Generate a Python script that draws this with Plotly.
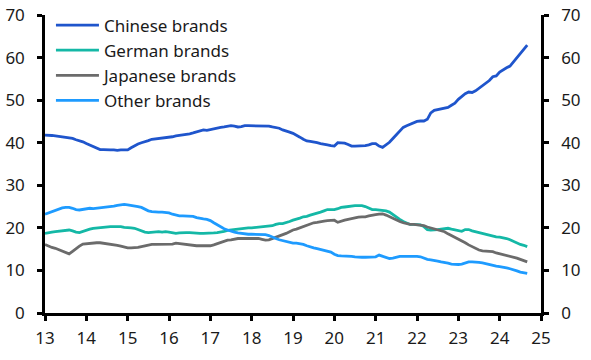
import plotly.graph_objects as go

start_year = 13
chinese = [
    41.8, 41.8, 41.7, 41.6, 41.5, 41.4, 41.3, 41.2, 41.0, 40.7, 40.5, 40.2,
    39.8, 39.4, 39.0, 38.6, 38.4, 38.4, 38.3, 38.3, 38.3, 38.2, 38.3, 38.3,
    38.3, 38.8, 39.3, 39.7, 40.0, 40.2, 40.5, 40.8, 40.9, 41.0, 41.1, 41.2,
    41.2, 41.4, 41.6, 41.7, 41.8, 42.0, 42.1, 42.3, 42.5, 42.7, 43.0, 42.9,
    43.1, 43.3, 43.5, 43.6, 43.7, 43.8, 44.0, 43.9, 43.7, 43.8, 44.0, 44.0,
    44.0, 44.0, 44.0, 44.0, 44.0, 43.9, 43.7, 43.5, 43.4, 43.0, 42.8, 42.5,
    42.2, 41.8, 41.3, 40.8, 40.4, 40.3, 40.2, 40.0, 39.8, 39.7, 39.5, 39.3,
    39.2, 40.0, 40.0, 39.9, 39.6, 39.2, 39.2, 39.2, 39.2, 39.3, 39.5, 39.8,
    39.8, 39.2, 38.9, 39.5, 40.1, 41.0, 41.8, 42.7, 43.6, 44.0, 44.3, 44.6,
    45.0, 45.1, 45.1, 45.5, 47.0, 47.6, 47.8, 47.9, 48.1, 48.3, 48.8, 49.3,
    50.2, 50.9, 51.5, 51.9, 51.8, 52.2, 52.8, 53.5, 54.0, 54.6, 55.5, 55.7,
    56.6, 57.2, 57.6, 58.0, 59.0, 59.9, 61.0, 62.0, 62.9,
]
german = [
    18.7, 18.9, 19.0, 19.1, 19.2, 19.3, 19.4, 19.5, 19.3, 19.0, 18.9, 19.2,
    19.5, 19.7, 19.9, 20.0, 20.1, 20.2, 20.2, 20.3, 20.3, 20.3, 20.3, 20.1,
    20.1, 20.0, 19.9, 19.6, 19.3, 19.0, 18.9, 19.0, 19.0, 19.1, 19.0, 19.1,
    19.0, 18.8, 18.7, 18.8, 18.9, 18.9, 18.9, 18.8, 18.8, 18.7, 18.7, 18.7,
    18.7, 18.8, 18.9, 19.0, 19.2, 19.4, 19.5, 19.6, 19.8, 19.9, 20.0, 20.0,
    20.0, 20.1, 20.2, 20.3, 20.3, 20.4, 20.5, 20.8, 21.0, 21.0, 21.2, 21.5,
    21.8, 22.0, 22.3, 22.6, 22.7, 23.0, 23.2, 23.4, 23.7, 24.0, 24.3, 24.3,
    24.3, 24.5, 24.8, 24.9, 25.0, 25.2, 25.2, 25.2, 25.2, 25.0, 24.6, 24.3,
    24.3, 24.2, 24.2, 24.0, 23.7, 23.2, 22.7, 22.0, 21.5, 21.1, 20.8, 20.8,
    20.7, 20.7, 20.3, 19.6, 19.5, 19.5, 19.6, 19.7, 19.8, 19.9, 19.7, 19.5,
    19.3, 19.2, 19.6, 19.6, 19.3, 19.1, 18.9, 18.7, 18.4, 18.2, 18.1, 17.9,
    17.8, 17.7, 17.5, 17.2, 16.8, 16.4, 16.1, 15.9, 15.6,
]
japanese = [
    16.1, 15.7, 15.4, 15.2, 14.9, 14.6, 14.3, 13.9, 14.5, 15.2, 15.7, 16.2,
    16.3, 16.4, 16.5, 16.5, 16.5, 16.4, 16.3, 16.2, 16.1, 15.9, 15.7, 15.5,
    15.3, 15.3, 15.3, 15.4, 15.6, 15.8, 16.0, 16.1, 16.1, 16.1, 16.1, 16.1,
    16.1, 16.2, 16.4, 16.3, 16.2, 16.0, 15.9, 15.8, 15.8, 15.8, 15.8, 15.9,
    15.8, 16.0, 16.3, 16.6, 16.9, 17.1, 17.2, 17.4, 17.5, 17.5, 17.5, 17.5,
    17.5, 17.5, 17.5, 17.3, 17.1, 17.2, 17.5, 17.7, 18.0, 18.3, 18.7, 19.1,
    19.5, 19.7, 20.0, 20.3, 20.6, 20.9, 21.2, 21.3, 21.5, 21.6, 21.7, 21.8,
    21.8, 21.3, 21.6, 21.8, 22.0, 22.2, 22.3, 22.5, 22.6, 22.6, 22.8, 23.0,
    23.1, 23.2, 23.3, 23.0, 22.6, 22.2, 21.9, 21.5, 21.2, 21.0, 20.8, 20.8,
    20.7, 20.7, 20.5, 20.2, 20.0, 19.8, 19.6, 19.4, 19.1, 18.6, 18.2, 17.7,
    17.3, 16.9, 16.5, 16.0, 15.6, 15.2, 14.8, 14.6, 14.5, 14.4, 14.4, 14.1,
    13.9, 13.8, 13.5, 13.3, 13.1, 12.9, 12.6, 12.3, 12.0,
]
other = [
    23.2, 23.5, 23.8, 24.1, 24.4, 24.7, 24.8, 24.8, 24.6, 24.3, 24.2, 24.3,
    24.5, 24.6, 24.5, 24.6, 24.7, 24.8, 24.8, 25.0, 25.1, 25.3, 25.4, 25.5,
    25.4, 25.3, 25.2, 25.0, 24.8, 24.4, 24.0, 23.8, 23.7, 23.7, 23.7, 23.6,
    23.5, 23.2, 23.0, 22.8, 22.8, 22.8, 22.8, 22.7, 22.4, 22.2, 22.1, 22.0,
    21.7, 21.2, 20.7, 20.2, 19.8, 19.5, 19.2, 19.0, 18.8, 18.7, 18.5, 18.5,
    18.5, 18.5, 18.4, 18.5, 18.4, 18.2, 17.8, 17.5, 17.2, 17.0, 16.8, 16.6,
    16.4, 16.4, 16.3, 16.1, 15.8, 15.5, 15.3, 15.1, 14.9, 14.7, 14.6, 14.3,
    13.8, 13.5, 13.4, 13.4, 13.3, 13.3, 13.2, 13.1, 13.1, 13.1, 13.1, 13.1,
    13.2, 13.6, 13.3, 13.0, 12.8, 12.9, 13.1, 13.3, 13.3, 13.3, 13.3, 13.4,
    13.3, 13.2, 12.9, 12.6, 12.5, 12.4, 12.2, 12.0, 11.9, 11.7, 11.5, 11.4,
    11.4, 11.5, 11.8, 12.0, 12.0, 12.0, 11.9, 11.8, 11.6, 11.3, 11.1, 11.0,
    10.9, 10.8, 10.6, 10.4, 10.2, 9.9, 9.6, 9.4, 9.3,
]
x_ticks = list(range(13, 26))
y_ticks = list(range(0, 71, 10))

months = [start_year + i / 12 for i in range(len(chinese))]

series = [
    ("Chinese brands", chinese, "#1f55cc"),
    ("German brands", german, "#14b8a6"),
    ("Japanese brands", japanese, "#6b6b6b"),
    ("Other brands", other, "#1e9bff"),
]

fig = go.Figure()
for name, vals, color in series:
    fig.add_trace(go.Scatter(x=months, y=vals, mode="lines", name=name,
                             line=dict(color=color, width=2.8)))
fig.add_trace(go.Scatter(x=[13], y=[None], yaxis="y2", showlegend=False,
                         hoverinfo="skip", mode="lines"))

font = dict(family="Noto Sans, Open Sans, sans-serif", size=17, color="#1a1a1a")
axis_common = dict(showgrid=False, zeroline=False, showline=True, linecolor="black",
                   linewidth=2.5, ticks="outside", ticklen=5, tickwidth=2.5,
                   tickcolor="black", tickfont=font, automargin=False)

fig.update_layout(
    width=591, height=360,
    margin=dict(l=45, r=50, t=15, b=47, autoexpand=False),
    plot_bgcolor="white", paper_bgcolor="white",
    font=font,
    showlegend=True,
    legend=dict(x=0.012, y=1.025, xanchor="left", yanchor="top",
                bgcolor="rgba(0,0,0,0)", font=font, itemwidth=43,
                tracegroupgap=0),
    xaxis=dict(range=[13, 25], tickvals=x_ticks, ticktext=[str(v) for v in x_ticks],
               ticklabelstandoff=3, **axis_common),
    yaxis=dict(range=[0, 70], tickvals=y_ticks, ticklabelstandoff=9, **axis_common),
    yaxis2=dict(range=[0, 70], tickvals=y_ticks, overlaying="y", side="right",
                ticklabelstandoff=9, **axis_common),
)

fig.write_html("out.html", config={"displayModeBar": False},
               post_script="document.body.style.margin='0';document.body.style.padding='0';")
